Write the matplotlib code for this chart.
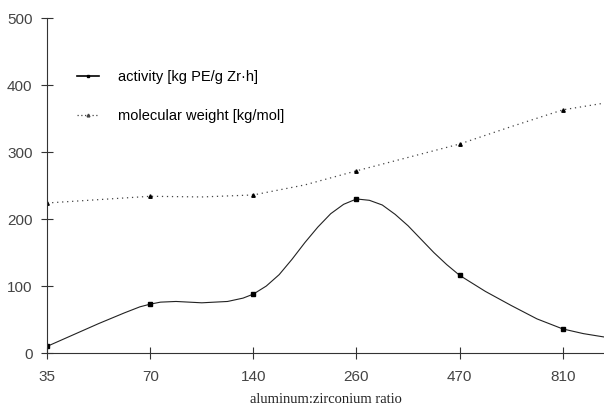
import numpy as np
import matplotlib.pyplot as plt

# categories on the x axis (evenly spaced)
ratios = ['35', '70', '140', '260', '470', '810']
pos = np.arange(len(ratios))

# measured points
activity = [10, 73, 88, 230, 116, 36]
mol_weight = [224, 234, 236, 272, 312, 363]

# traced smooth curves (position, value)
act_curve_x = [0, 0.25, 0.5, 0.75, 0.9, 1, 1.1, 1.25, 1.5, 1.75, 1.9, 2, 2.125, 2.25,
               2.375, 2.5, 2.625, 2.75, 2.875, 3, 3.125, 3.25, 3.375, 3.5, 3.625,
               3.75, 3.875, 4, 4.25, 4.5, 4.75, 5, 5.2, 5.4]
act_curve_y = [10, 27, 44, 60, 69, 73, 76, 77, 75, 77, 82, 88, 100, 117,
               140, 165, 188, 208, 222, 230, 228, 221, 207, 190, 170,
               150, 132, 116, 92, 71, 51, 36, 29, 24]
mw_curve_x = [0, 0.5, 1, 1.5, 2, 2.5, 3, 3.5, 4, 4.5, 5, 5.4]
mw_curve_y = [224, 229, 234, 233, 236, 251, 272, 292, 312, 338, 363, 373]

fig = plt.figure(figsize=(6.04, 4.11), dpi=100)
ax = fig.add_axes([0.078, 0.141, 0.922, 0.815])

ax.plot(act_curve_x, act_curve_y, color='#222222', lw=0.8)
ax.plot(pos, activity, ls='none', marker='s', ms=2.5, color='black')
ax.plot(mw_curve_x, mw_curve_y, color='#444444', lw=0.9, ls=(0, (1, 3)))
ax.plot(pos, mol_weight, ls='none', marker='^', ms=2.5, color='black')

# legend handles
h1, = ax.plot([], [], color='black', lw=1.2, marker='s', ms=2)
h2, = ax.plot([], [], color='#444444', lw=0.9, ls=(0, (1, 2)), marker='^', ms=2)
ax.legend([h1, h2], ['activity [kg PE/g Zr\u00b7h]', 'molecular weight [kg/mol]'],
          loc='upper left', bbox_to_anchor=(0.03, 0.885), frameon=False,
          handlelength=1.5, handletextpad=1.3, labelspacing=1.75,
          prop={'family': 'Liberation Sans', 'size': 10.5})

ax.set_xlim(0, 5.4)
ax.set_ylim(0, 500)
ax.set_xticks(pos)
ax.set_xticklabels(ratios)
ax.set_yticks([0, 100, 200, 300, 400, 500])

for s in ['top', 'right']:
    ax.spines[s].set_visible(False)
ax.spines['left'].set_color('#333333')
ax.spines['bottom'].set_color('#333333')
ax.tick_params(direction='inout', length=9, width=0.8, color='#333333',
               labelsize=11, labelcolor='#444444', pad=6)
ax.tick_params(axis='x', pad=8)
for lab in ax.get_xticklabels() + ax.get_yticklabels():
    lab.set_family('Liberation Sans')

ax.set_xlabel('aluminum:zirconium ratio', family='Liberation Serif', fontsize=10.5,
              color='#222222', labelpad=6)

fig.savefig('out.png', dpi=100)
